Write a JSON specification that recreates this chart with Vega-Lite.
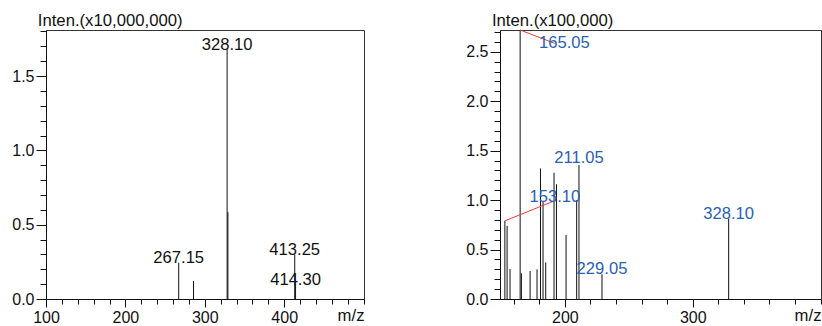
{
  "$schema": "https://vega.github.io/schema/vega-lite/v6.json",
  "padding": {"left": 11, "top": 11, "right": 0, "bottom": 0},
  "spacing": 136,
  "bounds": "flush",
  "config": {
    "font": "Liberation Sans",
    "view": {"stroke": "#333", "strokeWidth": 1},
    "axis": {
      "labelFont": "Liberation Sans",
      "labelFontSize": 16,
      "labelColor": "#111",
      "labelFlush": false,
      "labelOverlap": false,
      "tickColor": "#111",
      "domainColor": "#111",
      "labelPadding": 2,
      "grid": false,
      "titleFont": "Liberation Sans",
      "titleFontSize": 16.7,
      "titleFontWeight": "normal",
      "titleColor": "#111"
    }
  },
  "datasets": {
    "leftPeaks": [
      {"mz": 267.15, "inten": 0.244},
      {"mz": 285.8, "inten": 0.121},
      {"mz": 328.1, "inten": 1.683},
      {"mz": 329.1, "inten": 0.584},
      {"mz": 413.25, "inten": 0.30},
      {"mz": 414.3, "inten": 0.10}
    ],
    "leftLabels": [
      {"lx": 328.1, "ly": 1.71, "label": "328.10"},
      {"lx": 267.15, "ly": 0.274, "label": "267.15"},
      {"lx": 413.25, "ly": 0.328, "label": "413.25"},
      {"lx": 414.3, "ly": 0.126, "label": "414.30"}
    ],
    "rightPeaks": [
      {"mz": 153.1, "inten": 0.79},
      {"mz": 154.85, "inten": 0.74},
      {"mz": 157.15, "inten": 0.303},
      {"mz": 165.05, "inten": 2.72},
      {"mz": 166.05, "inten": 0.26},
      {"mz": 172.85, "inten": 0.283},
      {"mz": 178.25, "inten": 0.30},
      {"mz": 180.95, "inten": 1.32},
      {"mz": 182.95, "inten": 0.984},
      {"mz": 185.05, "inten": 0.37},
      {"mz": 191.55, "inten": 1.277},
      {"mz": 193.45, "inten": 1.16},
      {"mz": 200.95, "inten": 0.647},
      {"mz": 209.25, "inten": 1.0},
      {"mz": 211.05, "inten": 1.355},
      {"mz": 229.05, "inten": 0.25},
      {"mz": 328.1, "inten": 0.815}
    ],
    "rightLabels": [
      {"lx": 199.6, "ly": 2.592, "label": "165.05"},
      {"lx": 192.2, "ly": 1.033, "label": "153.10"},
      {"lx": 211.05, "ly": 1.421, "label": "211.05"},
      {"lx": 229.05, "ly": 0.306, "label": "229.05"},
      {"lx": 328.1, "ly": 0.861, "label": "328.10"}
    ],
    "rightLeaders": [
      {"x1": 165.05, "y1": 2.72, "x2": 192.1, "y2": 2.585},
      {"x1": 153.1, "y1": 0.79, "x2": 192.1, "y2": 0.994}
    ]
  },
  "hconcat": [
    {
      "width": 318,
      "height": 269,
      "resolve": {"axis": {"x": "independent", "y": "independent"}},
      "layer": [
        {
          "data": {"name": "leftPeaks"},
          "mark": {"type": "rule", "color": "#111", "strokeWidth": 1},
          "encoding": {
            "x": {"field": "mz", "type": "quantitative",
              "scale": {"domain": [100, 500.5], "nice": false, "zero": false},
              "axis": {"orient": "bottom", "values": [100, 200, 300, 400], "tickSize": 8,
                "title": "m/z", "titleAlign": "right", "titleAnchor": "end", "titleBaseline": "alphabetic", "titleX": 318, "titleY": 21}},
            "y": {"field": "inten", "type": "quantitative",
              "scale": {"domain": [0, 1.81], "nice": false, "zero": true},
              "axis": {"orient": "left", "values": [0, 0.5, 1, 1.5], "format": ".1f", "tickSize": 10,
                "title": "Inten.(x10,000,000)", "titleAngle": 0, "titleAlign": "left", "titleBaseline": "alphabetic", "titleX": -8.7, "titleY": -5}},
            "y2": {"datum": 0}
          }
        },
        {
          "data": {"name": "leftLabels"},
          "mark": {"type": "text", "font": "Liberation Sans", "fontSize": 16.6, "color": "#111", "align": "center", "baseline": "middle"},
          "encoding": {
            "x": {"field": "lx", "type": "quantitative",
              "scale": {"domain": [100, 500.5], "nice": false, "zero": false},
              "axis": {"orient": "bottom", "values": [100,120,140,160,180,200,220,240,260,280,300,320,340,360,380,400,420,440,460,480,500], "tickSize": 5, "labels": false, "domain": false, "title": null}},
            "y": {"field": "ly", "type": "quantitative",
              "scale": {"domain": [0, 1.81], "nice": false, "zero": true},
              "axis": {"orient": "left", "values": [0,0.1,0.2,0.3,0.4,0.5,0.6,0.7,0.8,0.9,1.0,1.1,1.2,1.3,1.4,1.5,1.6,1.7,1.8], "tickSize": 6, "labels": false, "domain": false, "title": null}},
            "text": {"field": "label"}
          }
        }
      ]
    },
    {
      "width": 321,
      "height": 269,
      "resolve": {"axis": {"x": "independent", "y": "independent"}},
      "layer": [
        {
          "data": {"name": "rightPeaks"},
          "mark": {"type": "rule", "color": "#111", "strokeWidth": 1},
          "encoding": {
            "x": {"field": "mz", "type": "quantitative",
              "scale": {"domain": [149.3, 400.3], "nice": false, "zero": false},
              "axis": {"orient": "bottom", "values": [200, 300], "tickSize": 8,
                "title": "m/z", "titleAlign": "right", "titleAnchor": "end", "titleBaseline": "alphabetic", "titleX": 321, "titleY": 21}},
            "y": {"field": "inten", "type": "quantitative",
              "scale": {"domain": [0, 2.72], "nice": false, "zero": true},
              "axis": {"orient": "left", "values": [0, 0.5, 1, 1.5, 2, 2.5], "format": ".1f", "tickSize": 10,
                "title": "Inten.(x100,000)", "titleAngle": 0, "titleAlign": "left", "titleBaseline": "alphabetic", "titleX": -8.6, "titleY": -5}},
            "y2": {"datum": 0}
          }
        },
        {
          "data": {"name": "rightLeaders"},
          "mark": {"type": "rule", "color": "#f03a3a", "strokeWidth": 1},
          "encoding": {
            "x": {"field": "x1", "type": "quantitative", "scale": {"domain": [149.3, 400.3], "nice": false, "zero": false}, "axis": null},
            "y": {"field": "y1", "type": "quantitative", "scale": {"domain": [0, 2.72], "nice": false, "zero": true}, "axis": null},
            "x2": {"field": "x2"},
            "y2": {"field": "y2"}
          }
        },
        {
          "data": {"name": "rightLabels"},
          "mark": {"type": "text", "font": "Liberation Sans", "fontSize": 16.6, "color": "#2b5fb4", "align": "center", "baseline": "middle"},
          "encoding": {
            "x": {"field": "lx", "type": "quantitative",
              "scale": {"domain": [149.3, 400.3], "nice": false, "zero": false},
              "axis": {"orient": "bottom", "values": [160,180,200,220,240,260,280,300,320,340,360,380,400], "tickSize": 5, "labels": false, "domain": false, "title": null}},
            "y": {"field": "ly", "type": "quantitative",
              "scale": {"domain": [0, 2.72], "nice": false, "zero": true},
              "axis": {"orient": "left", "values": [0,0.1,0.2,0.3,0.4,0.5,0.6,0.7,0.8,0.9,1.0,1.1,1.2,1.3,1.4,1.5,1.6,1.7,1.8,1.9,2.0,2.1,2.2,2.3,2.4,2.5,2.6,2.7], "tickSize": 6, "labels": false, "domain": false, "title": null}},
            "text": {"field": "label"}
          }
        }
      ]
    }
  ]
}
